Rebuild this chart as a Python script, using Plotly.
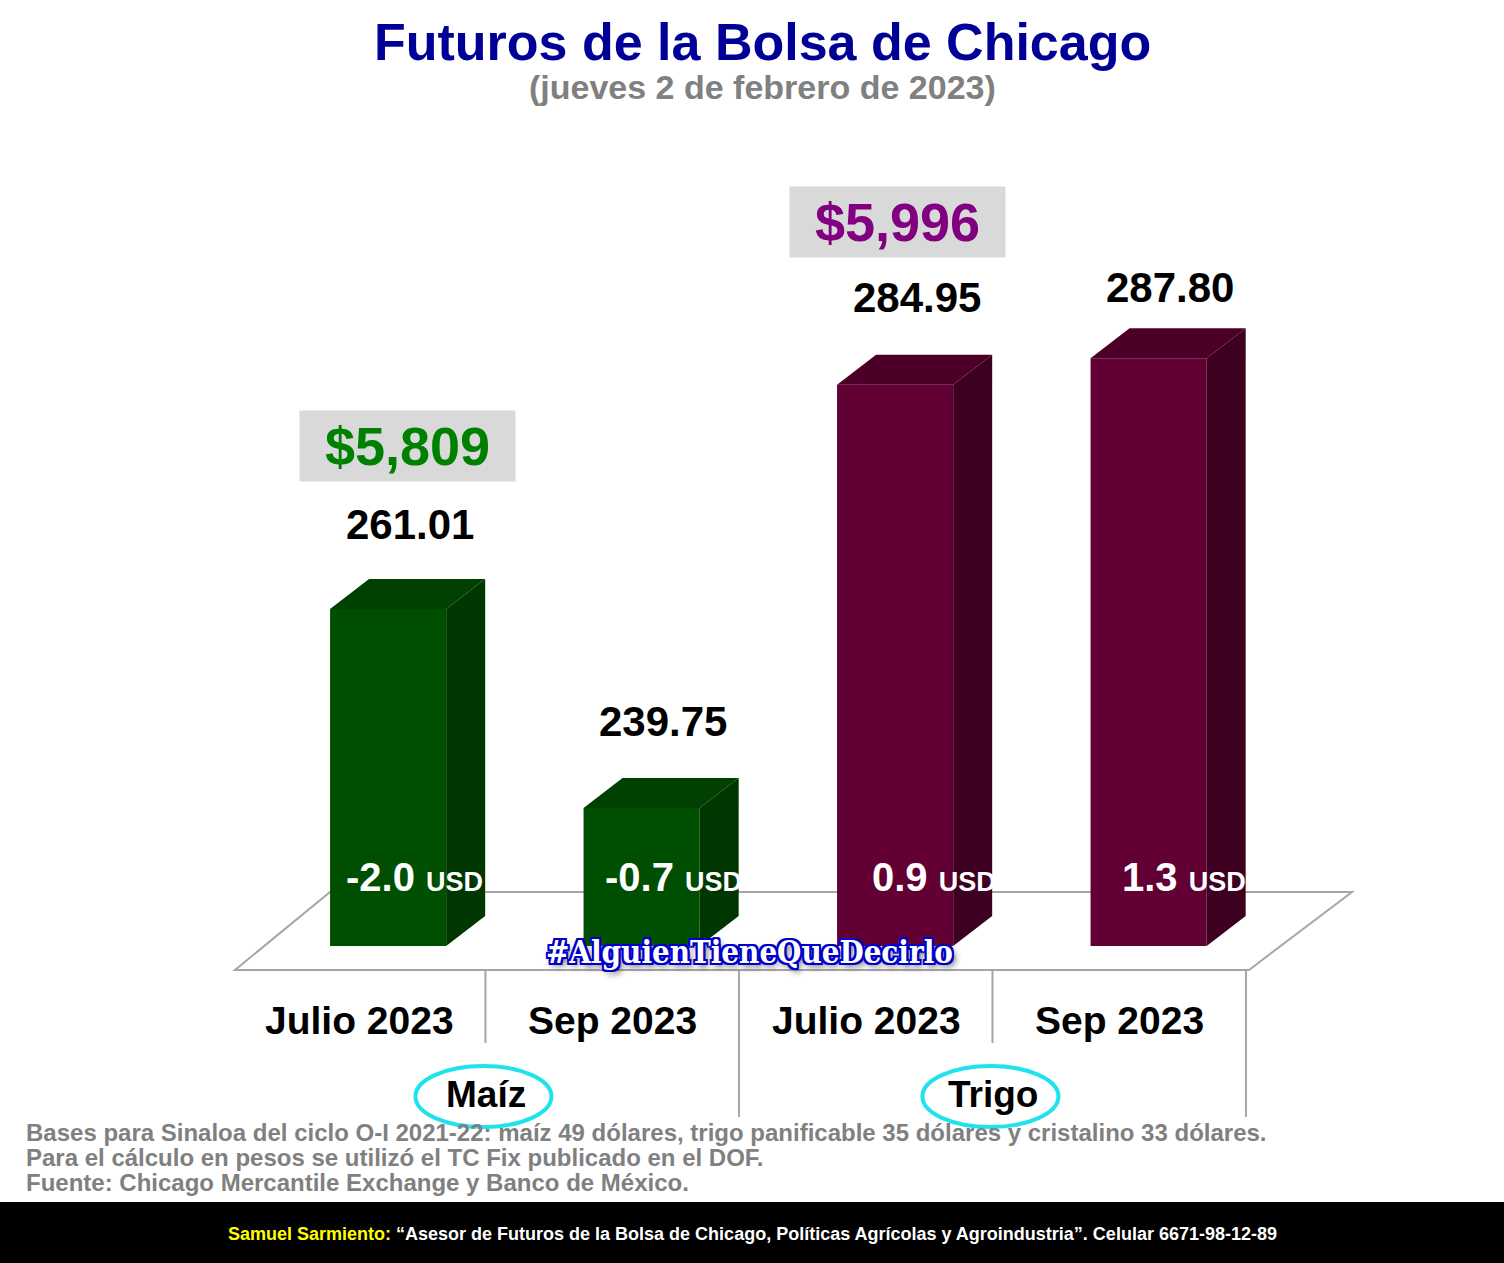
import plotly.graph_objects as go

# ---------------- data ----------------
crops = ["Maíz", "Maíz", "Trigo", "Trigo"]
contracts = ["Julio 2023", "Sep 2023", "Julio 2023", "Sep 2023"]
prices_usd = [261.01, 239.75, 284.95, 287.80]
changes_usd = [-2.0, -0.7, 0.9, 1.3]
groups = ["Maíz", "Trigo"]
pesos_julio = [5809, 5996]          # precio en pesos (contrato julio)
axis_base = 225.0                   # valor del piso del eje

# ---------------- geometry / style ----------------
W, H = 1504, 1263
PX_SLOT0, PX_SLOT = 235.0, 253.5     # left edge of first slot, slot width (px)
PX_BASE, PX_PER_UNIT = 946.0, 9.36   # pixel of axis_base, px per USD


def xd(px):
    return (px - PX_SLOT0) / PX_SLOT - 0.5


def yd(py):
    return axis_base + (PX_BASE - py) / PX_PER_UNIT


BAR_OFF, BAR_W = -0.125, 0.458
DX, DY = 39 / PX_SLOT, 30 / PX_PER_UNIT   # depth of the 3-D bars

front_cols = ["#004F00", "#004F00", "#620033", "#620033"]
top_cols = ["#004000", "#004000", "#4C0027", "#4C0027"]
side_cols = ["#003700", "#003700", "#3D0020", "#3D0020"]

xs = list(range(len(prices_usd)))

fig = go.Figure()
fig.add_trace(go.Bar(
    x=xs, y=[p - axis_base for p in prices_usd], base=axis_base,
    offset=BAR_OFF, width=BAR_W,
    marker=dict(color=front_cols, line=dict(width=0)),
    hovertext=[f"{c} {k}: {p:.2f}" for c, k, p in zip(crops, contracts, prices_usd)],
    hoverinfo="text",
))

shapes = []
# floor
gray = "#A6A6A6"
fx0, fx1 = xd(235), xd(1249)
bx0, bx1 = xd(330), xd(1352)
fy, by = yd(970), yd(892)
shapes.append(dict(type="path", xref="x", yref="y", layer="below",
                   path=f"M{fx0},{fy} L{bx0},{by} L{bx1},{by} L{fx1},{fy} Z",
                   line=dict(color=gray, width=2)))
# category dividers
for i in range(len(xs)):
    xb = i + 0.5 - 0.012
    long_line = crops[i] != (crops[i + 1] if i + 1 < len(crops) else None)
    bottom = yd(1117) if long_line else yd(1043)
    shapes.append(dict(type="line", xref="x", yref="y", layer="below",
                       x0=xb, x1=xb, y0=fy, y1=bottom,
                       line=dict(color=gray, width=2)))

# 3-D faces of bars
for i, p in enumerate(prices_usd):
    xl = i + BAR_OFF
    xr = xl + BAR_W
    b = axis_base
    shapes.append(dict(type="path", xref="x", yref="y", layer="above",
                       path=f"M{xr},{b} L{xr},{p} L{xr+DX},{p+DY} L{xr+DX},{b+DY} Z",
                       fillcolor=side_cols[i], line=dict(width=0)))
    shapes.append(dict(type="path", xref="x", yref="y", layer="above",
                       path=f"M{xl},{p} L{xr},{p} L{xr+DX},{p+DY} L{xl+DX},{p+DY} Z",
                       fillcolor=top_cols[i], line=dict(width=0)))

# ellipses around group names
for g, name in enumerate(groups):
    idx = [i for i, c in enumerate(crops) if c == name]
    cx = (idx[0] + idx[-1]) / 2 - 0.02
    shapes.append(dict(type="circle", xref="x", yref="y", layer="above",
                       x0=cx - 68 / PX_SLOT, x1=cx + 68 / PX_SLOT,
                       y0=yd(1127), y1=yd(1066),
                       line=dict(color="#1FE3EC", width=4)))

# black footer band
shapes.append(dict(type="rect", xref="paper", yref="paper",
                   x0=0, x1=1, y0=0, y1=1 - 1202 / H,
                   fillcolor="#000000", line=dict(width=0), layer="above"))

ann = []
AR = "Liberation Sans, Arial, sans-serif"
C = dict(xanchor="center", yanchor="middle", showarrow=False)
# value labels
val_shift = [84, 86, 87, 71]
for i, p in enumerate(prices_usd):
    ann.append(dict(x=i + 0.19, y=p, xref="x", yref="y", yshift=val_shift[i],
                    text=f"<b>{p:.2f}</b>", **C,
                    font=dict(family=AR, size=42, color="#000000")))
# peso price boxes
g_colors = ["#008000", "#800080"]
box_xshift = [0, -17]
for g, name in enumerate(groups):
    i = crops.index(name)
    ann.append(dict(x=i + 0.18, y=prices_usd[i], xref="x", yref="y", yshift=163,
                    xshift=box_xshift[g],
                    text=f"<b>${pesos_julio[g]:,}</b>", **C,
                    bgcolor="#D9D9D9", width=215, height=70, borderpad=0,
                    font=dict(family=AR, size=54, color=g_colors[g])))
# change labels inside bars
chg_xshift = [-6, 0, 7, 3]
for i, c in enumerate(changes_usd):
    ann.append(dict(x=i + 0.23, y=yd(877), xref="x", yref="y", xshift=chg_xshift[i],
                    text=f"<b>{c:.1f} <span style='font-size:27px'>USD</span></b>", **C,
                    font=dict(family=AR, size=40, color="#FFFFFF")))
# category labels
for i, k in enumerate(contracts):
    ann.append(dict(x=i - 0.01, y=yd(1020), xref="x", yref="y",
                    text=f"<b>{k}</b>", **C,
                    font=dict(family=AR, size=39, color="#000000")))
# group labels
for name in groups:
    idx = [i for i, c in enumerate(crops) if c == name]
    ann.append(dict(x=(idx[0] + idx[-1]) / 2 - 0.01, y=yd(1094), xref="x", yref="y",
                    text=f"<b>{name}</b>", **C,
                    font=dict(family=AR, size=37, color="#000000")))

# titles
ann.append(dict(x=762 / W, y=1 - 42 / H, xref="paper", yref="paper",
                text="<b>Futuros de la Bolsa de Chicago</b>", **C,
                font=dict(family=AR, size=52, color="#000096")))
ann.append(dict(x=762 / W, y=1 - 87 / H, xref="paper", yref="paper",
                text="<b>(jueves 2 de febrero de 2023)</b>", **C,
                font=dict(family=AR, size=34, color="#808080")))

# watermark
ann.append(dict(x=749 / W, y=1 - 952 / H, xref="paper", yref="paper",
                text="<b>#AlguienTieneQueDecirlo</b>", **C,
                font=dict(family="DejaVu Serif Condensed, DejaVu Serif, serif", size=31,
                          color="#FFFFFF",
                          shadow="2px 0 0 #0000CC, -2px 0 0 #0000CC, 0 2px 0 #0000CC, 0 -2px 0 #0000CC,"
                                 " 2px 2px 0 #0000CC, -2px -2px 0 #0000CC, 2px -2px 0 #0000CC,"
                                 " -2px 2px 0 #0000CC, 3px 4px 6px #555555")))

# notes
notes = [
    "Bases para Sinaloa del ciclo O-I 2021-22: maíz 49 dólares, trigo panificable 35 dólares y cristalino 33 dólares.",
    "Para el cálculo en pesos se utilizó el TC Fix publicado en el DOF.",
    "Fuente: Chicago Mercantile Exchange y Banco de México.",
]
for j, t in enumerate(notes):
    ann.append(dict(x=24 / W, y=1 - (1132 + 25 * j) / H, xref="paper", yref="paper",
                    xanchor="left", yanchor="middle", showarrow=False,
                    text=f"<b>{t}</b>",
                    font=dict(family=AR, size=24, color="#808080")))

ann.append(dict(x=752 / W, y=1 - 1234 / H, xref="paper", yref="paper",
                text="<b><span style='color:#FFFF00'>Samuel Sarmiento:</span> “Asesor de Futuros de la Bolsa de Chicago, "
                     "Políticas Agrícolas y Agroindustria”. Celular 6671-98-12-89</b>", **C,
                font=dict(family=AR, size=18, color="#FFFFFF")))

fig.update_layout(
    width=W, height=H, autosize=False,
    margin=dict(l=0, r=0, t=0, b=0, pad=0),
    paper_bgcolor="#FFFFFF", plot_bgcolor="#FFFFFF",
    showlegend=False,
    xaxis=dict(range=[xd(0), xd(W)], visible=False, fixedrange=True),
    yaxis=dict(range=[yd(H), yd(0)], visible=False, fixedrange=True),
    shapes=shapes, annotations=ann,
)

fig.write_html("out.html", config={"displayModeBar": False},
               post_script="document.body.style.margin='0px';document.body.style.overflow='hidden';")
